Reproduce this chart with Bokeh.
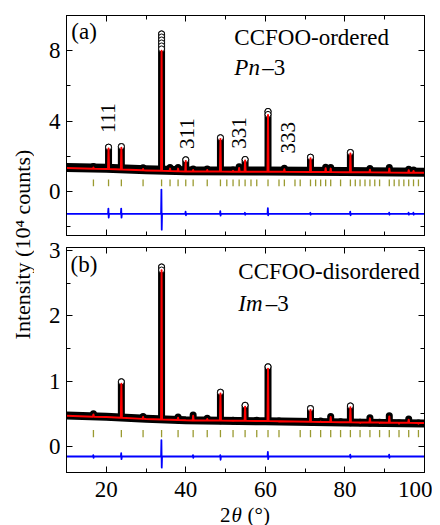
import numpy as np
from bokeh.plotting import figure
from bokeh.models import Range1d, LinearAxis, FixedTicker, Label, CustomJSTickFormatter
from bokeh.layouts import row, column
from bokeh.embed import file_html
from bokeh.resources import INLINE

# ---------------- data: panel (a) CCFOO-ordered, Pn-3 ----------------
bg_a_x = [10, 20, 30, 40, 60, 80, 100]
bg_a_calc = [1.33, 1.28, 1.20, 1.14, 1.12, 1.10, 1.06]
bg_a_obs = [1.37, 1.32, 1.24, 1.18, 1.16, 1.14, 1.10]
peak_a_x = [16.77, 20.57, 23.79, 29.25, 33.90, 36.03, 38.05, 39.98, 41.84, 45.38, 48.70,
            51.87, 53.40, 54.90, 60.66, 64.77, 71.34, 75.15, 76.42, 81.37, 86.28, 91.15,
            96.03, 97.24]
peak_a_obs = [1.42, 2.52, 2.55, 1.35, 8.95, 1.36, 1.36, 1.80, 1.28, 1.28, 3.05,
              1.22, 1.40, 1.82, 4.55, 1.32, 1.95, 1.38, 1.36, 2.22, 1.30, 1.36,
              1.27, 1.22]
peak_a_calc = [1.36, 2.45, 2.48, 1.28, 8.00, 1.30, 1.30, 1.74, 1.22, 1.22, 2.98,
               1.17, 1.34, 1.76, 4.35, 1.26, 1.89, 1.32, 1.30, 2.16, 1.24, 1.30,
               1.21, 1.17]
bragg_a = [16.77, 20.57, 23.79, 29.25, 33.90, 36.03, 38.05, 39.98, 41.84, 45.38, 48.70,
           50.30, 51.87, 53.40, 54.90, 56.38, 57.83, 60.66, 63.42, 64.77, 67.44, 68.75,
           71.34, 72.63, 73.89, 75.15, 76.42, 78.90, 81.37, 82.60, 83.80, 85.04, 86.28,
           87.50, 88.71, 91.15, 92.38, 93.59, 94.81, 96.03, 97.24, 98.48]
diff_a_base = -1.27
diff_a_x = [20.57, 23.79, 33.90, 39.98, 48.70, 54.90, 60.66, 71.34, 81.37, 91.15, 96.03, 97.24]
diff_a_up = [0.30, 0.30, 1.38, 0.12, 0.15, 0.06, 0.32, 0.06, 0.12, 0.07, 0.07, 0.07]
diff_a_dn = [0.22, 0.22, 0.90, 0.08, 0.10, 0.05, 0.08, 0.05, 0.08, 0.05, 0.05, 0.05]
hkl_text = ["111", "311", "331", "333"]
hkl_x = [20.5, 40.3, 53.4, 65.6]
hkl_y = [4.17, 3.29, 3.32, 3.06]

# ---------------- data: panel (b) CCFOO-disordered, Im-3 ----------------
bg_b_x = [10, 20, 30, 40, 60, 80, 100]
bg_b_calc = [0.47, 0.45, 0.42, 0.40, 0.39, 0.37, 0.36]
bg_b_obs = [0.475, 0.455, 0.425, 0.40, 0.385, 0.365, 0.35]
peak_b_x = [16.77, 23.79, 29.25, 33.90, 38.05, 41.84, 45.38, 48.70, 51.87, 54.90, 57.83,
            60.66, 63.42, 71.34, 73.89, 76.42, 78.90, 81.37, 83.80, 86.28, 88.71, 91.15,
            93.59, 96.03, 98.48]
peak_b_obs = [0.50, 0.99, 0.46, 2.75, 0.45, 0.48, 0.43, 0.83, 0.40, 0.63, 0.40,
              1.22, 0.39, 0.58, 0.39, 0.46, 0.38, 0.62, 0.37, 0.44, 0.37, 0.47,
              0.36, 0.42, 0.36]
peak_b_calc = [0.49, 0.96, 0.45, 2.70, 0.44, 0.47, 0.42, 0.81, 0.39, 0.61, 0.39,
               1.19, 0.38, 0.56, 0.38, 0.45, 0.37, 0.60, 0.36, 0.43, 0.36, 0.46,
               0.35, 0.41, 0.35]
bragg_b = [16.77, 23.79, 29.25, 33.90, 38.05, 41.84, 45.38, 48.70, 51.87, 54.90, 57.83,
           60.66, 63.42, 68.75, 71.34, 73.89, 76.42, 78.90, 81.37, 83.80, 86.28, 88.71,
           91.15, 93.59, 96.03, 98.48]
diff_b_base = -0.155
diff_b_x = [16.77, 23.79, 33.90, 41.84, 48.70, 60.66, 81.37, 91.15]
diff_b_up = [0.02, 0.05, 0.25, 0.02, 0.02, 0.07, 0.03, 0.03]
diff_b_dn = [0.02, 0.04, 0.17, 0.02, 0.05, 0.04, 0.02, 0.02]

x_major = [20, 40, 60, 80, 100]
x_minor = [10, 30, 50, 70, 90]

FONT = "Liberation Serif"
OLIVE = "#9a9a30"


def calc_profile(bx, by, px, ph, hw=0.12):
    pts = list(zip(bx, by))
    for p, h in zip(px, ph):
        b = float(np.interp(p, bx, by))
        pts += [(p - hw, b), (p, h), (p + hw, b)]
    pts.sort(key=lambda t: t[0])
    return [t[0] for t in pts], [t[1] for t in pts]


def diff_profile(base, dx, up, dn):
    xs, ys = [10.0], [base]
    for p, u, d in zip(dx, up, dn):
        xs += [p - 0.12, p - 0.04, p + 0.04, p + 0.12]
        ys += [base, base + u, base - d, base]
    xs.append(100.0)
    ys.append(base)
    return xs, ys


def style_axis(ax, show_labels, standoff=6):
    ax.axis_line_color = "black"
    ax.axis_line_width = 1
    ax.major_tick_line_color = "black"
    ax.minor_tick_line_color = "black"
    ax.major_tick_in = 6
    ax.major_tick_out = 0
    ax.minor_tick_in = 4
    ax.minor_tick_out = 0
    ax.major_label_text_font = FONT
    ax.major_label_text_color = "black"
    if show_labels:
        ax.major_label_text_font_size = "23px"
        ax.major_label_standoff = standoff
    else:
        ax.formatter = CustomJSTickFormatter(code="return ''")
        ax.major_label_text_font_size = "1px"
        ax.major_label_standoff = 0


def make_panel(height, yr, yticks, yminor, bt, bb, xlabels):
    p = figure(width=398, height=height, x_range=Range1d(10, 100), y_range=Range1d(*yr),
               output_backend="svg", toolbar_location=None, title=None,
               min_border_left=32, min_border_right=8, min_border_top=bt, min_border_bottom=bb)
    p.xgrid.visible = False
    p.ygrid.visible = False
    p.outline_line_color = "black"
    p.outline_line_alpha = 1.0
    p.outline_line_width = 1
    p.background_fill_color = "white"
    p.border_fill_color = "white"
    xt = FixedTicker(ticks=x_major, minor_ticks=x_minor)
    yt = FixedTicker(ticks=yticks, minor_ticks=yminor)
    p.xaxis[0].ticker = xt
    p.yaxis[0].ticker = yt
    style_axis(p.xaxis[0], xlabels, standoff=9)
    style_axis(p.yaxis[0], True, standoff=6)
    top = LinearAxis(ticker=xt)
    right = LinearAxis(ticker=yt)
    style_axis(top, False)
    style_axis(right, False)
    p.add_layout(top, "above")
    p.add_layout(right, "right")
    return p


def draw_pattern(p, bx, bobs, bcalc, px, pobs, pcalc, bragg, blo, bhi,
                 dbase, dx, dup, ddn, band_w, step):
    # observed points (dense band of open circles)
    p.line(bx, bobs, line_color="black", line_width=band_w, line_join="round", line_cap="round")
    pb = [float(np.interp(x, bx, bobs)) for x in px]
    p.segment(x0=px, y0=pb, x1=px, y1=pobs, line_color="black", line_width=7, line_cap="round")
    cx, cy = [], []
    for x, o, c in zip(px, pobs, pcalc):
        if o - float(np.interp(x, bx, bobs)) < 3 * step:
            continue
        for y in np.arange(o, c - 1e-9, -step):
            cx.append(x)
            cy.append(float(y))
    p.scatter(cx, cy, marker="circle", size=6, fill_color="white", line_color="black", line_width=1)
    # calculated
    cxs, cys = calc_profile(bx, bcalc, px, pcalc)
    p.line(cxs, cys, line_color="#ff0000", line_width=2, line_join="round")
    # Bragg positions
    p.segment(x0=bragg, y0=[blo] * len(bragg), x1=bragg, y1=[bhi] * len(bragg),
              line_color=OLIVE, line_width=1.3)
    # difference
    dxs, dys = diff_profile(dbase, dx, dup, ddn)
    p.line(dxs, dys, line_color="#0000ff", line_width=1.8, line_join="round")


def txt(p, x, y, s, size="23px", style="normal", align="left", baseline="middle", angle=0.0):
    p.add_layout(Label(x=x, y=y, text=s, text_font=FONT, text_font_size=size,
                       text_font_style=style, text_color="black", text_align=align,
                       text_baseline=baseline, angle=angle))


# ---------------- panel (a) ----------------
pa = make_panel(237, (-2.5, 10.0), [0, 4, 8], [-2, 2, 6, 10], 15, 2, False)
draw_pattern(pa, bg_a_x, bg_a_obs, bg_a_calc, peak_a_x, peak_a_obs, peak_a_calc,
             bragg_a, 0.30, 0.68, diff_a_base, diff_a_x, diff_a_up, diff_a_dn, 9, 0.17)
txt(pa, 11.2, 9.11, "(a)")
txt(pa, 52.2, 8.73, "CCFOO-ordered")
txt(pa, 52.2, 7.03, "Pn", style="italic")
txt(pa, 59.2, 7.03, "\u20133")
for s, x, y in zip(hkl_text, hkl_x, hkl_y):
    txt(pa, x, y, s, size="21px", align="center", angle=np.pi / 2)

# ---------------- panel (b) ----------------
pb = make_panel(270, (-0.4, 3.05), [0, 1, 2, 3], [0.5, 1.5, 2.5], 10, 35, True)
draw_pattern(pb, bg_b_x, bg_b_obs, bg_b_calc, peak_b_x, peak_b_obs, peak_b_calc,
             bragg_b, 0.14, 0.25, diff_b_base, diff_b_x, diff_b_up, diff_b_dn, 8, 0.045)
txt(pb, 11.0, 2.79, "(b)")
txt(pb, 53.2, 2.685, "CCFOO-disordered")
txt(pb, 53.2, 2.186, "Im", style="italic")
txt(pb, 60.1, 2.186, "\u20133")

# ---------------- x-axis title strip: 2θ(°) ----------------
xl = figure(width=398, height=18, x_range=Range1d(10, 100), y_range=Range1d(0, 18),
            output_backend="svg", toolbar_location=None, title=None,
            min_border_left=32, min_border_right=8, min_border_top=0, min_border_bottom=0)
xl.axis.visible = False
xl.xgrid.visible = False
xl.ygrid.visible = False
xl.outline_line_color = None
txt(xl, 48.6, 11.0, "2", size="21px")
txt(xl, 51.5, 11.0, "\u03b8", size="21px", style="italic")
txt(xl, 55.5, 11.0, "(\u00b0)", size="21px")

# ---------------- shared y-axis title ----------------
yl = figure(width=34, height=525, x_range=Range1d(0, 34), y_range=Range1d(0, 525),
            output_backend="svg", toolbar_location=None, title=None, min_border=0)
yl.axis.visible = False
yl.xgrid.visible = False
yl.ygrid.visible = False
yl.outline_line_color = None
yl.add_layout(Label(x=22, y=281, text="Intensity (10\u2074 counts)", text_font=FONT,
                    text_font_size="22px", text_color="black", text_align="center",
                    text_baseline="middle", angle=np.pi / 2))

layout = row(yl, column(pa, pb, xl))
open("out.html", "w").write(file_html(layout, INLINE))
